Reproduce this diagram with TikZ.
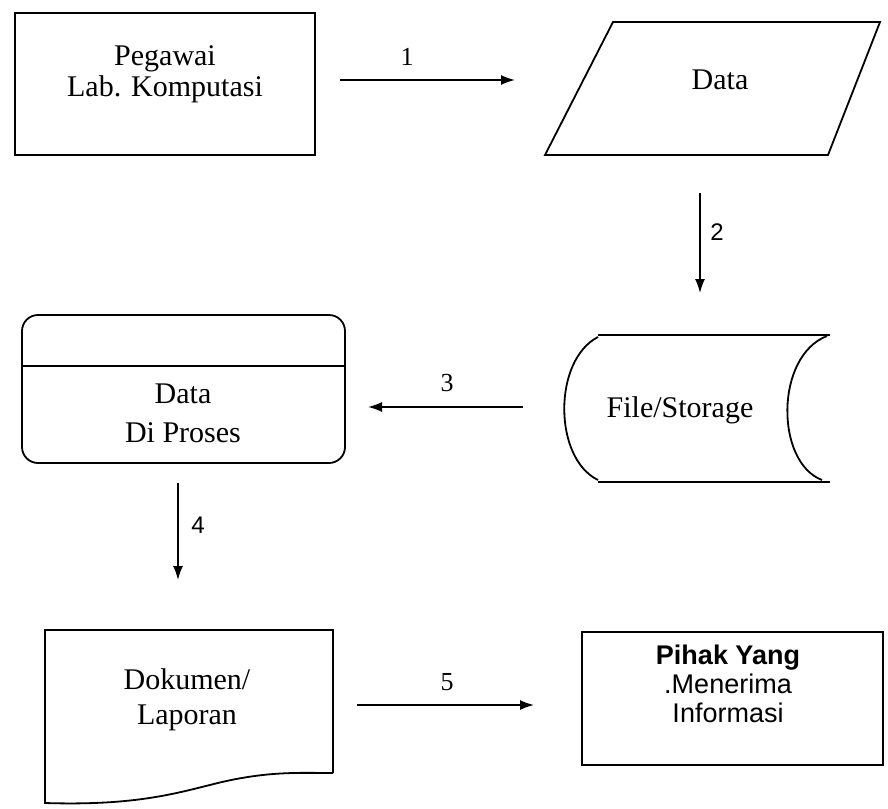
\documentclass[tikz,border=0pt]{standalone}
\usepackage{fontspec}
\setmainfont{Liberation Serif}
\newfontfamily\labelsans{Liberation Sans}
\usetikzlibrary{arrows.meta}
\begin{document}
\begin{tikzpicture}[x=1pt,y=-1pt,
  line width=1.8pt,
  every node/.style={inner sep=0pt},
  txt/.style={align=center,font=\fontsize{30}{35}\selectfont},
  num/.style={font=\fontsize{26}{30}\selectfont},
  numsans/.style={font=\labelsans\fontsize{24}{28}\selectfont},
  boxshape/.style={draw,rectangle},
  flow/.style={-{Latex[length=14pt,width=10pt]},line width=1.6pt}]
\useasboundingbox (0,0) rectangle (888,808);

% source: employee of the computing lab
\node[boxshape,minimum width=300,minimum height=142] (emp) at (165,84) {};
\node[txt] (empT) at (165,74) {Pegawai\\[-4pt]Lab. Komputasi};

% input data (parallelogram)
\draw (613,22) -- (880,22) -- (828,155) -- (545,155) -- cycle;
\node[txt] (data) at (720,80) {Data};

% storage
\draw (598,335) -- (830,335);
\draw (598,482) -- (830,482);
\draw (598,337) .. controls (553,360) and (553,458) .. (598,480);
\draw (827,336) .. controls (775,356) and (775,462) .. (822,480);
\node[txt] (store) at (680,410) {File/Storage};

% processing
\draw[rounded corners=16pt] (22,315) rectangle (345,463);
\draw (22,366) -- (345,366);
\node[txt] (proc) at (183,413) {Data\\[4pt]Di Proses};

% document / report
\draw (333,773) -- (333,630) -- (45,630) -- (45,803)
  .. controls (140,806) and (180,792) .. (222,782)
  .. controls (270,771) and (300,773) .. (333,773);
\node[txt] (doc) at (187,700) {Dokumen/\\Laporan};

% receiver
\node[boxshape,minimum width=301,minimum height=133] (recv) at (732.5,698.5) {};
\node[align=center,font=\labelsans\fontsize{27}{29}\selectfont] (recvT) at (728,684)
  {\textbf{Pihak Yang}\\.Menerima\\Informasi};

% connector end points
\coordinate (a1s) at (340,80);  \coordinate (a1e) at (515,80);
\coordinate (a2s) at (700,193); \coordinate (a2e) at (700,293);
\coordinate (a3s) at (523,407); \coordinate (a3e) at (368,407);
\coordinate (a4s) at (178,483); \coordinate (a4e) at (178,580);
\coordinate (a5s) at (357,705); \coordinate (a5e) at (534,705);

\draw[flow] (a1s) -- (a1e);
\draw[flow] (a2s) -- (a2e);
\draw[flow] (a3s) -- (a3e);
\draw[flow] (a4s) -- (a4e);
\draw[flow] (a5s) -- (a5e);

\node[num] (n1) at (407,57) {1};
\node[numsans] (n2) at (717,232) {2};
\node[num] (n3) at (447,383) {3};
\node[numsans] (n4) at (198,525) {4};
\node[num] (n5) at (447,682) {5};
\end{tikzpicture}
\end{document}
